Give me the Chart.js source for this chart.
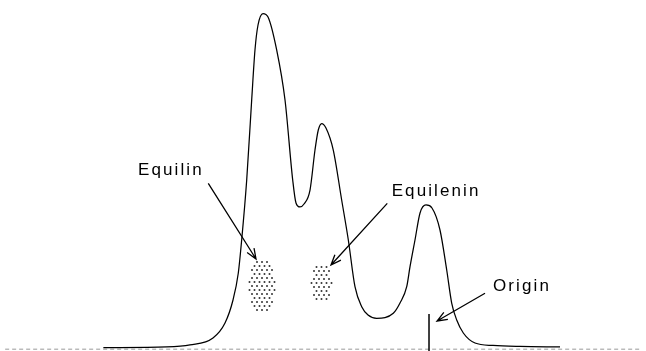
<!DOCTYPE html>
<html>
<head>
<meta charset="utf-8">
<script src="https://cdn.jsdelivr.net/npm/chart.js@4.4.1/dist/chart.umd.min.js"></script>
<style>
html,body{margin:0;padding:0;background:#fff;}
#wrap{width:646px;height:351px;position:relative;}
</style>
</head>
<body>
<div id="wrap"><canvas id="c"></canvas></div>
<script>
// Densitometer trace: position along strip (0-100) and absorbance (0-100)
const tracePos = [16.0,25.80,29.41,32.97,34.83,36.07,36.89,37.41,38.19,38.96,39.47,39.94,40.71,41.49,42.83,44.12,45.31,45.82,46.44,47.06,47.99,48.76,49.27,49.80,50.46,51.59,52.89,53.92,54.95,55.99,56.97,58.31,60.88,61.92,62.96,63.47,64.24,65.02,65.94,66.87,68.11,69.15,69.92,70.70,71.72,73.53,76.32,80.50,86.69];
const traceAbs = [0.1,0.30,0.90,2.99,7.46,14.33,22.39,32.24,50.15,74.03,88.96,96.42,99.85,98.81,88.96,74.03,50.15,43.28,42.09,42.99,47.16,59.10,65.07,67.01,65.67,59.10,44.18,32.24,18.30,12.33,9.85,8.87,10.36,13.43,18.30,24.27,32.24,40.30,42.69,41.79,35.22,23.28,13.43,8.36,4.48,1.49,0.75,0.45,0.30];

// Baseline of the strip
const baselinePos = [0.8, 99.2];
const baselineAbs = [-0.35, -0.35];

// Spots (centre position, centre height, half width, half height)
const spotNames = ["Equilin", "Equilenin"];
const spotPos = [40.56, 49.77];
const spotAbs = [18.5, 19.4];
const spotHalfW = [1.93, 1.55];
const spotHalfH = [7.76, 5.52];

// Origin mark
const originPos = 66.41;
const originAbs = [10.15, -0.9];

// Labels with arrows: label anchor, arrow start, arrow tip
const labelTexts = ["Equilin", "Equilenin", "Origin"];
const labelPos = [21.36, 60.63, 76.32];
const labelAbs = [51.64, 45.37, 17.01];
const arrowFromPos = [32.24, 59.95, 75.08];
const arrowFromAbs = [49.16, 43.19, 16.33];
const arrowToPos = [39.63, 51.24, 67.65];
const arrowToAbs = [26.57, 24.78, 8.06];

const annot = {
  id: 'annot',
  afterDatasetsDraw(chart) {
    const ctx = chart.ctx, xs = chart.scales.x, ys = chart.scales.y;
    const X = v => xs.getPixelForValue(v), Y = v => ys.getPixelForValue(v);
    ctx.save();
    // spots
    ctx.fillStyle = '#333';
    for (let i = 0; i < spotPos.length; i++) {
      const cx = X(spotPos[i]), cy = Y(spotAbs[i]);
      const rx = X(spotPos[i] + spotHalfW[i]) - cx, ry = cy - Y(spotAbs[i] + spotHalfH[i]);
      const step = 5;
      for (let row = -20; row <= 20; row++) {
        const dy = row * step * 0.8;
        for (let col = -10; col <= 10; col++) {
          const dx = col * step + (row % 2 ? step / 2 : 0);
          const t = (dx * dx) / (rx * rx) + (dy * dy) / (ry * ry);
          if (t <= 1.05) {
            ctx.beginPath();
            ctx.arc(cx + dx, cy + dy, 1.0, 0, Math.PI * 2);
            ctx.fill();
          }
        }
      }
    }
    // origin mark
    ctx.strokeStyle = '#000';
    ctx.lineWidth = 1.5;
    ctx.beginPath();
    ctx.moveTo(X(originPos), Y(originAbs[0]));
    ctx.lineTo(X(originPos), Y(originAbs[1]));
    ctx.stroke();
    // arrows
    ctx.lineWidth = 1.3;
    for (let i = 0; i < labelTexts.length; i++) {
      const x1 = X(arrowFromPos[i]), y1 = Y(arrowFromAbs[i]);
      const x2 = X(arrowToPos[i]), y2 = Y(arrowToAbs[i]);
      ctx.beginPath();
      ctx.moveTo(x1, y1); ctx.lineTo(x2, y2);
      const a = Math.atan2(y2 - y1, x2 - x1), L = 11, w = 0.38;
      ctx.moveTo(x2 - L * Math.cos(a - w), y2 - L * Math.sin(a - w));
      ctx.lineTo(x2, y2);
      ctx.lineTo(x2 - L * Math.cos(a + w), y2 - L * Math.sin(a + w));
      ctx.stroke();
    }
    // labels
    ctx.fillStyle = '#000';
    ctx.font = '17px "Liberation Sans", Arial, sans-serif';
    ctx.textBaseline = 'alphabetic';
    ctx.textAlign = 'left';
    if ('letterSpacing' in ctx) ctx.letterSpacing = '2.1px';
    for (let i = 0; i < labelTexts.length; i++) {
      ctx.fillText(labelTexts[i], X(labelPos[i]), Y(labelAbs[i]));
    }
    ctx.restore();
  }
};

new Chart(document.getElementById('c'), {
  type: 'line',
  data: {
    datasets: [
      {
        data: tracePos.map((p, i) => ({x: p, y: traceAbs[i]})),
        borderColor: '#000', borderWidth: 1.25, pointRadius: 0,
        cubicInterpolationMode: 'monotone', fill: false, clip: false
      },
      {
        data: baselinePos.map((p, i) => ({x: p, y: baselineAbs[i]})),
        borderColor: '#999', borderWidth: 1, borderDash: [4, 3], pointRadius: 0,
        fill: false, clip: false
      }
    ]
  },
  options: {
    responsive: true, maintainAspectRatio: false, animation: false,
    layout: {padding: {top: 13, bottom: 3, left: 0, right: 0}},
    plugins: {legend: {display: false}, tooltip: {enabled: false}},
    scales: {
      x: {type: 'linear', min: 0, max: 100, display: false},
      y: {min: 0, max: 100, display: false}
    }
  },
  plugins: [annot]
});
</script>
</body>
</html>
